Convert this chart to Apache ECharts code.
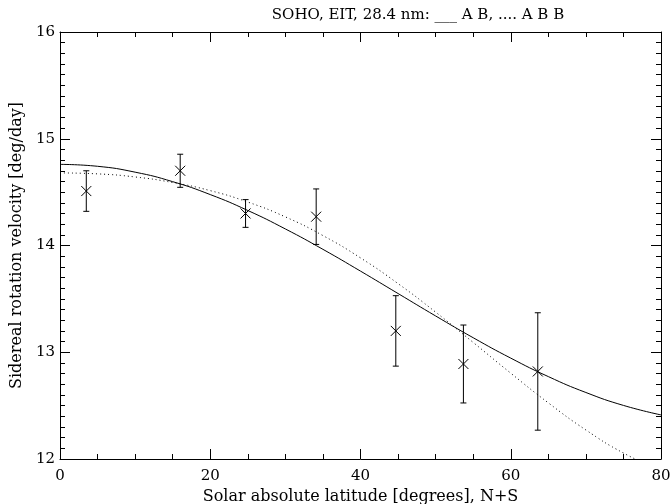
<!DOCTYPE html>
<html><head><meta charset="utf-8">
<script src="https://cdn.jsdelivr.net/npm/echarts@6/dist/echarts.min.js"></script>
<style>html,body{margin:0;padding:0;background:#fff}#c{width:672px;height:504px}</style>
</head><body><div id="c"></div>
<script>
// Measured points
const latitudes = [3.5, 16.0, 24.7, 34.1, 44.7, 53.7, 63.6];
const velocities = [14.51, 14.70, 14.30, 14.27, 13.20, 12.89, 12.82];
const errors = [0.19, 0.155, 0.13, 0.26, 0.33, 0.365, 0.55];
// Fit curves read at 5-degree steps
const curveLat = [0,5,10,15,20,25,30,35,40,45,50,55,60,65,70,75,80];
const fitAB = [14.76,14.742,14.687,14.598,14.477,14.328,14.155,13.964,13.760,13.55,13.340,13.136,12.945,12.772,12.623,12.502,12.413];
const fitABB = [14.68,14.671,14.642,14.590,14.514,14.407,14.268,14.093,13.884,13.643,13.376,13.092,12.804,12.526,12.272,12.056,11.891];
const titleText = 'SOHO, EIT, 28.4 nm: ___ A B, .... A B B';
const xName = 'Solar absolute latitude [degrees], N+S';
const yName = 'Sidereal rotation velocity [deg/day]';

const FONT = 'DejaVu Serif';
const FS = 15;
const GL = 60, GR = 11, GT = 32, GB = 45;
const chart = echarts.init(document.getElementById('c'), null, {renderer:'canvas'});
const pts = latitudes.map((x,i)=>[x, velocities[i], velocities[i]-errors[i], velocities[i]+errors[i]]);
const black = {color:'#000', width:1};
function axis(grid, pos, min, max, interval, len, withLine, extra){
  return Object.assign({
    gridIndex:grid, type:'value', position:pos, min:min, max:max, interval:interval,
    axisLine:{show:withLine, onZero:false, lineStyle:black}, splitLine:{show:false},
    axisTick:{show:true, inside:true, length:len, lineStyle:black},
    minorTick:{show:false}, axisLabel:{show:false}
  }, extra || {});
}
// four identical grids, each with one x and one y axis, so axes never stack on one side
const gridRect = {left:GL, right:GR, top:GT, bottom:GB, containLabel:false, outerBoundsMode:'none'};
chart.setOption({
  animation:false,
  backgroundColor:'#fff',
  title:{text:titleText, left:413, textAlign:'center', top:3,
    textStyle:{fontFamily:FONT, fontSize:FS, fontWeight:'normal', color:'#000'}},
  grid:[Object.assign({}, gridRect), Object.assign({}, gridRect), Object.assign({}, gridRect), Object.assign({}, gridRect)],
  xAxis:[
    axis(0, 'bottom', 0, 80, 20, 10, true, {
      axisLabel:{show:true, fontFamily:FONT, fontSize:FS, color:'#000', margin:10},
      name:xName, nameLocation:'middle', nameGap:30,
      nameTextStyle:{fontFamily:FONT, fontSize:16, color:'#000'}}),
    axis(1, 'top', 0, 80, 20, 10, true),
    axis(2, 'bottom', 0, 80, 5, 5, false),
    axis(3, 'top', 0, 80, 5, 5, false)
  ],
  yAxis:[
    axis(0, 'left', 12, 16, 1, 10, true, {
      axisLabel:{show:true, fontFamily:FONT, fontSize:FS, color:'#000', margin:5},
      name:yName, nameLocation:'middle', nameGap:35,
      nameTextStyle:{fontFamily:FONT, fontSize:16, color:'#000'}}),
    axis(1, 'right', 12, 16, 1, 10, true),
    axis(2, 'left', 12, 16, 0.1, 5, false),
    axis(3, 'right', 12, 16, 0.1, 5, false)
  ],
  series:[
    {type:'line', xAxisIndex:0, yAxisIndex:0, data:curveLat.map((x,i)=>[x,fitAB[i]]), smooth:true, symbol:'none',
      lineStyle:{color:'#000', width:1}},
    {type:'line', xAxisIndex:0, yAxisIndex:0, data:curveLat.map((x,i)=>[x,fitABB[i]]), smooth:true, symbol:'none',
      lineStyle:{color:'#000', width:1, type:[1,3]}},
    {type:'custom', xAxisIndex:0, yAxisIndex:0, data:pts, clip:false,
      renderItem:function(params, api){
        const c = api.coord([api.value(0), api.value(1)]);
        const lo = api.coord([api.value(0), api.value(2)]);
        const hi = api.coord([api.value(0), api.value(3)]);
        const cap = 3, m = 5;
        const st = {stroke:'#000', lineWidth:1};
        return {type:'group', children:[
          {type:'line', shape:{x1:c[0],y1:lo[1],x2:c[0],y2:hi[1]}, style:st},
          {type:'line', shape:{x1:c[0]-cap,y1:lo[1],x2:c[0]+cap,y2:lo[1]}, style:st},
          {type:'line', shape:{x1:c[0]-cap,y1:hi[1],x2:c[0]+cap,y2:hi[1]}, style:st},
          {type:'line', shape:{x1:c[0]-m,y1:c[1]-m,x2:c[0]+m,y2:c[1]+m}, style:st},
          {type:'line', shape:{x1:c[0]-m,y1:c[1]+m,x2:c[0]+m,y2:c[1]-m}, style:st}
        ]};
      }}
  ]
});
</script></body></html>
